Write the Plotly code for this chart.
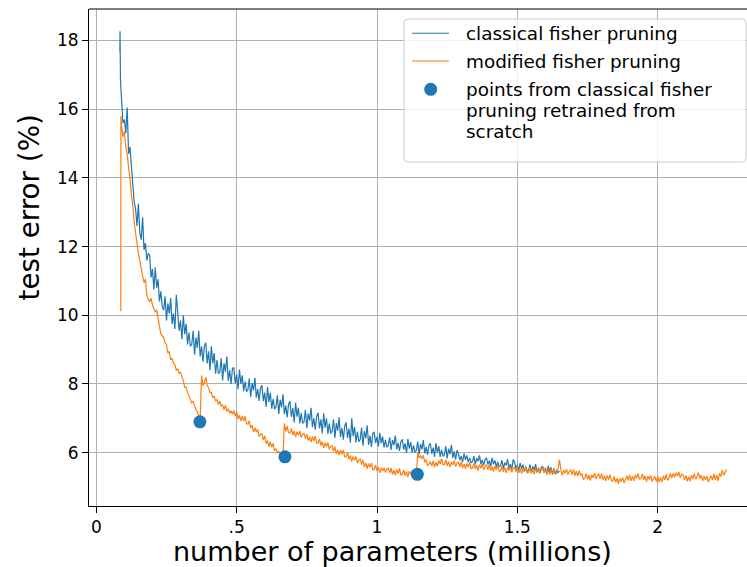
import numpy as np
import plotly.graph_objects as go

# ---- data -------------------------------------------------------------
# Test error (%) recorded along the pruning run, sampled every 0.005 M params
STEP = 0.005

# classical fisher pruning
blue_head_x = [0.084, 0.0845, 0.085, 0.0855, 0.086, 0.087]
blue_head_err = [17.65, 18.27, 17.7, 17.85, 16.9, 16.7]
blue_start = 0.09
blue_err = [
    16.3, 15.6, 15.7, 15.3, 16.05, 14.7, 14.9, 14.2, 13.8, 13.3,
    13.1, 12.6, 13.25, 12.4, 12.2, 12.85, 11.9, 12.1, 11.6, 11.8,
    11.75, 11.1, 11.35, 10.75, 11.4, 10.8, 11.05, 10.4, 10.7, 10.25,
    10.15, 10.55, 9.85, 10.35, 10.05, 10.5, 9.75, 10.05, 9.6, 10.6,
    10.15, 9.55, 9.85, 9.3, 10.0, 9.45, 9.75, 9.15, 9.5, 9.1,
    9.15, 9.55, 8.85, 9.35, 9.05, 9.55, 8.8, 9.1, 8.65, 9.1,
    9.2, 8.6, 8.95, 8.4, 9.1, 8.6, 8.9, 8.3, 8.7, 8.3,
    8.35, 8.75, 8.1, 8.6, 8.35, 8.8, 8.1, 8.4, 8.0, 8.45,
    8.48, 8.02, 8.27, 7.85, 8.42, 8.0, 8.25, 7.79, 8.08, 7.78,
    7.83, 8.16, 7.62, 8.03, 7.81, 8.18, 7.6, 7.85, 7.51, 7.88,
    7.96, 7.5, 7.75, 7.33, 7.91, 7.48, 7.74, 7.28, 7.57, 7.27,
    7.33, 7.67, 7.13, 7.54, 7.32, 7.7, 7.12, 7.37, 7.03, 7.41,
    7.5, 7.04, 7.3, 6.88, 7.46, 7.05, 7.31, 6.85, 7.15, 6.85,
    6.9, 7.25, 6.71, 7.14, 6.93, 7.31, 6.74, 7.01, 6.67, 7.06,
    7.16, 6.71, 6.97, 6.56, 7.15, 6.73, 7.0, 6.55, 6.85, 6.56,
    6.62, 6.97, 6.43, 6.86, 6.64, 7.03, 6.46, 6.72, 6.38, 6.78,
    6.88, 6.43, 6.7, 6.29, 7.0, 6.48, 6.75, 6.3, 6.61, 6.32,
    6.38, 6.73, 6.2, 6.63, 6.42, 6.8, 6.23, 6.5, 6.17, 6.56,
    6.59, 6.28, 6.46, 6.18, 6.58, 6.28, 6.47, 6.15, 6.37, 6.16,
    6.21, 6.45, 6.08, 6.37, 6.22, 6.5, 6.1, 6.29, 6.05, 6.32,
    6.39, 6.09, 6.27, 5.99, 6.4, 6.12, 6.31, 6.0, 6.21, 6.01,
    6.07, 6.32, 5.95, 6.25, 6.1, 6.37, 5.98, 6.17, 5.94, 6.21,
    6.27, 5.97, 6.15, 5.88, 6.28, 6.0, 6.19, 5.88, 6.09, 5.89,
    5.94, 6.19, 5.83, 6.12, 5.96, 6.23, 5.85, 6.04, 5.8, 6.07,
    5.98, 5.78, 5.9, 5.73, 5.98, 5.79, 5.92, 5.72, 5.85, 5.71,
    5.74, 5.9, 5.66, 5.84, 5.75, 5.92, 5.66, 5.79, 5.64, 5.81,
    5.85, 5.66, 5.77, 5.6, 5.85, 5.66, 5.78, 5.58, 5.73, 5.59,
    5.62, 5.78, 5.54, 5.71, 5.63, 5.81, 5.54, 5.67, 5.51, 5.8,
    5.72, 5.53, 5.64, 5.47, 5.7, 5.52, 5.65, 5.45, 5.59, 5.46,
    5.49, 5.65, 5.41, 5.6, 5.5, 5.67, 5.42, 5.54, 5.4, 5.57,
    5.61, 5.42, 5.54, 5.37, 5.62, 5.44, 5.57, 5.37, 5.52, 5.38,
    5.5, 5.42, 5.47,
]

# modified fisher pruning
orange_head_x = [0.0872, 0.0876]
orange_head_err = [10.12, 15.8]
orange_start = 0.09
orange_err = [
    15.55, 15.2, 15.35, 14.9, 14.7, 14.3, 14.0, 13.5, 13.2, 12.7,
    12.3, 12.1, 11.8, 11.55, 11.3, 11.15, 10.95, 11.05, 10.6, 10.45,
    10.4, 10.5, 10.3, 10.2, 10.1, 10.15, 9.95, 9.7, 9.45, 9.4,
    9.35, 9.2, 9.15, 8.9, 8.95, 8.7, 8.75, 8.6, 8.55, 8.4,
    8.45, 8.3, 8.35, 8.2, 8.1, 7.9, 7.9, 7.75, 7.65, 7.5,
    7.45, 7.5, 7.35, 7.25, 7.2, 7.05, 6.92, 8.25, 7.95, 8.05,
    8.2, 7.95, 7.9, 7.75, 7.75, 7.6, 7.65, 7.5, 7.55, 7.4,
    7.5, 7.35, 7.4, 7.25, 7.38, 7.2, 7.28, 7.15, 7.22, 7.12,
    7.23, 7.06, 7.2, 6.98, 7.09, 6.92, 7.07, 6.93, 7.06, 6.85,
    6.83, 6.93, 6.72, 6.8, 6.6, 6.73, 6.6, 6.68, 6.47, 6.54,
    6.55, 6.37, 6.49, 6.26, 6.35, 6.18, 6.31, 6.16, 6.27, 6.05,
    6.12, 6.0, 6.04, 5.93, 5.96, 5.89, 6.85, 6.62, 6.77, 6.58,
    6.57, 6.7, 6.51, 6.63, 6.46, 6.61, 6.51, 6.63, 6.44, 6.54,
    6.56, 6.41, 6.55, 6.35, 6.46, 6.31, 6.47, 6.34, 6.48, 6.28,
    6.28, 6.4, 6.21, 6.32, 6.14, 6.29, 6.18, 6.29, 6.1, 6.19,
    6.2, 6.04, 6.18, 5.97, 6.08, 5.93, 6.08, 5.95, 6.08, 5.88,
    5.88, 6.0, 5.81, 5.92, 5.74, 5.89, 5.78, 5.89, 5.7, 5.79,
    5.81, 5.65, 5.79, 5.59, 5.7, 5.54, 5.69, 5.57, 5.7, 5.5,
    5.51, 5.64, 5.46, 5.58, 5.41, 5.56, 5.47, 5.56, 5.42, 5.52,
    5.55, 5.41, 5.56, 5.37, 5.49, 5.35, 5.51, 5.39, 5.54, 5.35,
    5.36, 5.5, 5.33, 5.45, 5.29, 5.46, 5.37, 5.49, 5.32, 5.42,
    5.37, 6.0, 5.86, 5.9, 5.82, 5.93, 5.72, 5.8, 5.62, 5.66,
    5.74, 5.61, 5.77, 5.58, 5.72, 5.6, 5.77, 5.67, 5.83, 5.65,
    5.65, 5.79, 5.62, 5.74, 5.58, 5.74, 5.64, 5.77, 5.6, 5.7,
    5.73, 5.59, 5.74, 5.55, 5.68, 5.53, 5.69, 5.58, 5.72, 5.54,
    5.55, 5.69, 5.52, 5.64, 5.48, 5.65, 5.55, 5.67, 5.5, 5.61,
    5.64, 5.5, 5.66, 5.47, 5.6, 5.45, 5.61, 5.5, 5.64, 5.46,
    5.47, 5.61, 5.44, 5.57, 5.41, 5.57, 5.48, 5.6, 5.43, 5.54,
    5.58, 5.44, 5.6, 5.41, 5.53, 5.39, 5.56, 5.44, 5.59, 5.41,
    5.43, 5.57, 5.4, 5.53, 5.37, 5.54, 5.44, 5.57, 5.4, 5.51,
    5.55, 5.41, 5.57, 5.38, 5.51, 5.36, 5.53, 5.41, 5.56, 5.38,
    5.4, 5.54, 5.8, 5.5, 5.34, 5.49, 5.4, 5.52, 5.36, 5.46,
    5.5, 5.36, 5.51, 5.33, 5.46, 5.32, 5.48, 5.34, 5.39, 5.22,
    5.25, 5.39, 5.22, 5.35, 5.19, 5.36, 5.27, 5.4, 5.23, 5.34,
    5.38, 5.24, 5.39, 5.2, 5.33, 5.18, 5.34, 5.22, 5.36, 5.18,
    5.17, 5.31, 5.14, 5.26, 5.09, 5.25, 5.16, 5.28, 5.12, 5.22,
    5.32, 5.19, 5.35, 5.18, 5.32, 5.18, 5.35, 5.25, 5.4, 5.23,
    5.25, 5.38, 5.21, 5.33, 5.16, 5.32, 5.22, 5.34, 5.16, 5.26,
    5.3, 5.16, 5.32, 5.14, 5.28, 5.14, 5.32, 5.21, 5.37, 5.19,
    5.25, 5.4, 5.26, 5.4, 5.28, 5.42, 5.32, 5.44, 5.27, 5.38,
    5.36, 5.2, 5.34, 5.17, 5.3, 5.17, 5.35, 5.23, 5.39, 5.23,
    5.3, 5.42, 5.25, 5.35, 5.18, 5.32, 5.2, 5.32, 5.15, 5.24,
    5.33, 5.2, 5.38, 5.21, 5.35, 5.18, 5.4, 5.31, 5.49, 5.34,
    5.45, 5.52,
]

# points from classical fisher pruning retrained from scratch
scratch_params = [0.369, 0.672, 1.1436]
scratch_err = [6.90, 5.88, 5.37]

x_tick_vals = [0, 0.5, 1, 1.5, 2]
x_tick_text = ["0", ".5", "1", "1.5", "2"]
y_tick_vals = [6, 8, 10, 12, 14, 16, 18]

legend_labels = [
    "classical fisher pruning",
    "modified fisher pruning",
    "points from classical fisher",
    "pruning retrained from",
    "scratch",
]

# ---- build ------------------------------------------------------------
BLUE = "#1f77b4"
ORANGE = "#ff7f0e"
FONT = "DejaVu Sans"

blue_x = list(blue_head_x) + list(np.round(blue_start + STEP * np.arange(len(blue_err)), 4))
blue_y = list(blue_head_err) + blue_err
orange_x = list(orange_head_x) + list(np.round(orange_start + STEP * np.arange(len(orange_err)), 4))
orange_y = list(orange_head_err) + orange_err

W, H = 747, 567
L, R, T, B = 89, 0, 9, 61
PW, PH = W - L - R, H - T - B


def px(xp):
    return (xp - L) / PW


def py(yp):
    return (T + PH - yp) / PH


fig = go.Figure()
fig.add_trace(go.Scatter(x=blue_x, y=blue_y, mode="lines",
                         line=dict(color=BLUE, width=1.2), showlegend=False,
                         name=legend_labels[0]))
fig.add_trace(go.Scatter(x=orange_x, y=orange_y, mode="lines",
                         line=dict(color=ORANGE, width=1.2), showlegend=False,
                         name=legend_labels[1]))
fig.add_trace(go.Scatter(x=scratch_params, y=scratch_err, mode="markers",
                         marker=dict(color=BLUE, size=13, line=dict(width=0)),
                         showlegend=False, name="points from scratch"))

shapes = []
# top spine
shapes.append(dict(type="line", xref="paper", yref="paper", x0=0, x1=1, y0=1, y1=1,
                   line=dict(color="black", width=1.1)))

# legend frame with rounded corners
lx0, lx1, ly0, ly1 = 404, 746, 19, 162
r = 4
rx, ry = r / PW, r / PH
a0, a1, b0, b1 = px(lx0), px(lx1), py(ly1), py(ly0)
path = (f"M {a0+rx},{b1} L {a1-rx},{b1} Q {a1},{b1} {a1},{b1-ry} "
        f"L {a1},{b0+ry} Q {a1},{b0} {a1-rx},{b0} L {a0+rx},{b0} "
        f"Q {a0},{b0} {a0},{b0+ry} L {a0},{b1-ry} Q {a0},{b1} {a0+rx},{b1} Z")
shapes.append(dict(type="path", xref="paper", yref="paper", path=path,
                   fillcolor="rgba(255,255,255,0.8)", line=dict(color="#cccccc", width=1),
                   layer="above"))
# legend samples
for yy, col in [(33.3, BLUE), (61.0, ORANGE)]:
    shapes.append(dict(type="line", xref="paper", yref="paper",
                       x0=px(412), x1=px(449), y0=py(yy), y1=py(yy),
                       line=dict(color=col, width=1.1), layer="above"))
shapes.append(dict(type="circle", xref="paper", yref="paper",
                   xsizemode="pixel", ysizemode="pixel",
                   xanchor=px(430.7), yanchor=py(89.3),
                   x0=-6.5, x1=6.5, y0=-6.5, y1=6.5,
                   fillcolor=BLUE, line=dict(width=0), layer="above"))

annotations = []
for text, yy in zip(legend_labels, [33.3, 61.0, 89.3, 110.5, 131.5]):
    annotations.append(dict(text=text, xref="paper", yref="paper", x=px(464), y=py(yy),
                            xanchor="left", yanchor="middle", showarrow=False,
                            font=dict(family=FONT, size=18.4, color="black")))
# axis titles
annotations.append(dict(text="number of parameters (millions)", xref="paper", yref="paper",
                        x=px(392), y=py(551), xanchor="center", yanchor="middle",
                        showarrow=False, borderpad=0,
                        font=dict(family=FONT, size=27, color="black")))
annotations.append(dict(text="test error (%)", xref="paper", yref="paper",
                        x=px(29), y=py(207.5), xanchor="center", yanchor="middle",
                        textangle=-90, showarrow=False,
                        font=dict(family=FONT, size=27.8, color="black")))

axis_common = dict(showline=True, linecolor="black", linewidth=1.1,
                   ticks="outside", ticklen=6, tickwidth=1.1, tickcolor="black",
                   showgrid=True, gridcolor="#b0b0b0", gridwidth=1.1, zeroline=False,
                   tickfont=dict(family=FONT, size=17, color="black"))

fig.update_layout(
    width=W, height=H,
    margin=dict(l=L, r=R, t=T, b=B, pad=0),
    paper_bgcolor="white", plot_bgcolor="white",
    xaxis=dict(range=[-0.026, 2.318], tickvals=x_tick_vals, ticktext=x_tick_text,
               **axis_common),
    yaxis=dict(range=[4.448, 18.917], tickvals=y_tick_vals, **axis_common),
    shapes=shapes,
    annotations=annotations,
    showlegend=False,
)

fig.write_html("out.html")
